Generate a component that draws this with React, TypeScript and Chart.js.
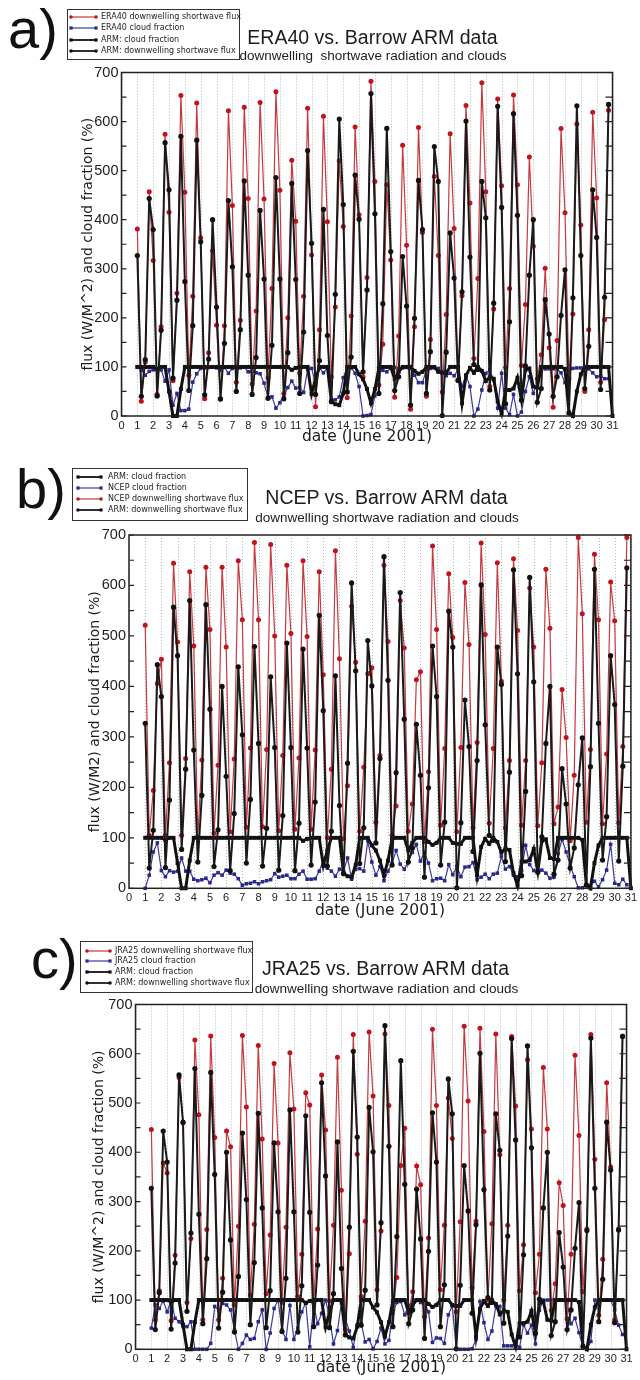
import React, { useEffect, useRef } from "react";
import Chart from "chart.js/auto";
import type { Plugin } from "chart.js";

// 6-hourly samples, first one at 1 June 00 UTC
const FIRST_DAY = 1;
const STEP_DAYS = 0.25;

// ARM Barrow observations (same in all three panels)
const ARM_SW = [
  327, 40, 115, 443, 380, 41, 175, 557, 461, 77, 236, 570, 274, 52, 184, 562,
  355, 43, 116, 400, 222, 35, 148, 439, 304, 50, 176, 479, 287, 44, 119, 419,
  279, 36, 144, 486, 279, 35, 129, 474, 278, 46, 171, 541, 352, 44, 113, 421,
  164, 29, 248, 605, 431, 49, 120, 491, 401, 90, 257, 657, 412, 46, 229, 586,
  335, 52, 80, 325, 224, 22, 199, 480, 380, 46, 131, 549, 478, 1, 130, 373,
  281, 73, 253, 601, 324, 105, 95, 478, 404, 53, 230, 631, 425, 25, 192, 616,
  409, 32, 102, 287, 400, 28, 56, 237, 167, 40, 80, 205, 298, 6, 241, 632,
  327, 56, 142, 461, 364, 54, 242, 635,
];
const ARM_CLOUD = [
  100, 100, 100, 100, 100, 96, 100, 100, 50, 0, 0, 55, 100, 100, 100, 100,
  100, 100, 100, 100, 100, 100, 100, 100, 100, 100, 100, 100, 100, 100, 100, 100,
  100, 100, 100, 100, 100, 100, 100, 94, 98, 100, 100, 100, 45, 75, 100, 100,
  100, 30, 24, 22, 46, 100, 100, 100, 85, 75, 55, 26, 55, 98, 100, 100,
  100, 75, 90, 100, 100, 100, 92, 86, 90, 100, 100, 100, 90, 88, 88, 100,
  100, 100, 26, 82, 98, 88, 100, 92, 71, 79, 76, 30, 5, 53, 53, 56,
  78, 33, 94, 97, 60, 58, 100, 100, 100, 100, 100, 100, 96, 7, 0, 50,
  85, 100, 100, 100, 100, 100, 100, 100, 0,
];

// ERA40 reanalysis
const ERA40_SW = [
  381, 30, 110, 457, 317, 44, 182, 574, 415, 72, 250, 653, 456, 83, 244, 638,
  363, 35, 129, 337, 185, 34, 184, 622, 429, 69, 195, 629, 443, 65, 214, 639,
  442, 78, 260, 661, 460, 46, 200, 521, 397, 87, 244, 627, 328, 19, 176, 611,
  396, 80, 222, 520, 386, 37, 204, 589, 410, 80, 282, 682, 478, 63, 146, 471,
  318, 38, 163, 552, 348, 14, 182, 588, 374, 40, 156, 488, 327, 49, 207, 575,
  382, 72, 245, 633, 434, 117, 280, 679, 457, 60, 218, 646, 469, 99, 260, 654,
  471, 103, 227, 528, 346, 76, 125, 301, 139, 18, 154, 586, 414, 76, 208, 595,
  389, 50, 176, 619, 444, 69, 196, 623,
];
const ERA40_CLOUD = [
  100, 94, 83, 91, 94, 95, 94, 71, 94, 22, 46, 11, 11, 14, 69, 86,
  97, 98, 99, 100, 98, 93, 99, 87, 97, 99, 98, 100, 90, 91, 88, 86,
  67, 38, 39, 16, 27, 41, 58, 71, 57, 58, 48, 95, 97, 67, 98, 88,
  98, 34, 33, 39, 78, 98, 98, 87, 60, 0, 1, 3, 41, 98, 93, 90,
  98, 99, 97, 98, 99, 97, 83, 68, 68, 94, 97, 98, 97, 90, 82, 87,
  82, 94, 60, 84, 60, 0, 14, 53, 87, 94, 73, 16, 87, 16, 3, 44,
  0, 8, 50, 80, 46, 69, 98, 96, 96, 96, 96, 88, 68, 94, 97, 98,
  98, 98, 96, 88, 80, 82, 76, 76,
];

// NCEP reanalysis
const NCEP_SW = [
  521, 105, 194, 406, 454, 105, 249, 644, 488, 105, 257, 627, 480, 102, 254, 636,
  513, 109, 244, 636, 478, 112, 256, 649, 532, 121, 278, 685, 532, 122, 275, 681,
  500, 114, 263, 640, 505, 117, 258, 649, 499, 117, 274, 627, 423, 100, 236, 669,
  455, 98, 203, 559, 448, 113, 240, 425, 437, 131, 263, 640, 489, 105, 163, 570,
  476, 113, 167, 413, 429, 92, 231, 678, 513, 125, 277, 623, 497, 112, 279, 606,
  483, 120, 289, 684, 503, 129, 277, 645, 410, 120, 253, 653, 511, 125, 253, 595,
  478, 124, 249, 632, 515, 128, 161, 394, 299, 94, 224, 695, 544, 131, 275, 662,
  532, 128, 266, 607, 530, 130, 281, 695,
];
const NCEP_CLOUD = [
  0, 26, 72, 90, 35, 23, 35, 32, 34, 60, 34, 34, 18, 15, 17, 20,
  11, 26, 31, 26, 36, 30, 28, 19, 6, 9, 10, 13, 9, 13, 15, 17,
  29, 22, 24, 26, 19, 19, 28, 34, 18, 18, 19, 34, 55, 40, 34, 24,
  38, 34, 60, 18, 38, 39, 34, 94, 52, 26, 43, 15, 34, 50, 75, 48,
  38, 52, 71, 87, 54, 71, 50, 15, 19, 20, 15, 47, 27, 43, 23, 42,
  43, 51, 17, 22, 28, 19, 28, 30, 63, 38, 43, 26, 23, 35, 85, 47,
  35, 34, 36, 30, 20, 22, 69, 97, 72, 46, 23, 1, 1, 7, 5, 14,
  3, 17, 36, 87, 10, 7, 18, 7,
];

// JRA25 reanalysis
const JRA25_SW = [
  446, 60, 119, 378, 358, 58, 191, 552, 460, 95, 225, 628, 476, 60, 243, 636,
  430, 60, 144, 443, 411, 90, 250, 637, 492, 110, 254, 617, 427, 113, 232, 580,
  419, 95, 248, 602, 488, 107, 193, 521, 496, 95, 244, 557, 445, 98, 252, 593,
  323, 40, 194, 639, 396, 107, 260, 644, 514, 121, 240, 640, 495, 80, 146, 373,
  449, 73, 117, 372, 334, 66, 226, 650, 495, 121, 252, 510, 428, 76, 259, 656,
  504, 125, 260, 652, 442, 100, 255, 640, 395, 100, 252, 635, 494, 119, 212, 588,
  447, 115, 193, 572, 447, 79, 133, 338, 292, 62, 193, 597, 434, 117, 244, 639,
  386, 69, 183, 541, 370, 60, 244, 636,
];
const JRA25_CLOUD = [
  43, 90, 83, 98, 76, 100, 63, 56, 46, 46, 56, 0, 0, 0, 0, 12,
  87, 80, 93, 90, 80, 39, 0, 12, 29, 20, 22, 56, 80, 0, 33, 83,
  100, 39, 20, 89, 20, 43, 76, 95, 5, 89, 52, 73, 100, 66, 11, 38,
  94, 62, 37, 4, 50, 53, 15, 20, 1, 16, 43, 11, 18, 73, 95, 97,
  70, 88, 100, 100, 95, 94, 76, 14, 23, 22, 12, 70, 88, 0, 0, 0,
  0, 1, 20, 97, 54, 20, 37, 88, 87, 7, 7, 7, 12, 4, 50, 33,
  49, 11, 79, 100, 100, 100, 100, 100, 100, 95, 52, 63, 34, 5, 0, 16,
  100, 100, 100, 100, 100, 80, 49, 30,
];

const RED = "#c0131c";
const RED_LINE = "#c53a40";
const BLUE = "#29288c";
const BLUE_LINE = "#3a399c";
const BLACK = "#111111";
const INK = "#1c1c1c";
const GRID_DOT = "#b4b4b4";

const Y_TITLE_SIZE = 14;
const X_TITLE_SIZE = 15.5;

type Key = "msw" | "mcl" | "acl" | "asw";

const STYLE: Record<Key, { color: string; line: string; width: number; marker: "circle" | "rect"; radius: number }> = {
  msw: { color: RED, line: RED_LINE, width: 1.2, marker: "circle", radius: 2.5 },
  mcl: { color: BLUE, line: BLUE_LINE, width: 1.2, marker: "rect", radius: 2.5 },
  acl: { color: BLACK, line: BLACK, width: 3, marker: "rect", radius: 2.8 },
  asw: { color: BLACK, line: "#1a1a1a", width: 2, marker: "circle", radius: 2.6 },
};

type PanelSpec = {
  tag: string;
  model: string;
  title: string;
  subtitle: string;
  yTitle: string;
  modelSw: number[];
  modelCloud: number[];
  legendOrder: Key[];
  top: number;
  height: number;
  plot: { l: number; r: number; t: number; b: number };
  yTitleX: number;
  xTitleY: number;
  tagTop: number;
  tagLeft: number;
  legend: { left: number; top: number; width: number; height: number; first: number; pitch: number; lineFrom: number; lineTo: number; textX: number };
  titleAt: [number, number];
  subAt: [number, number];
};

const PANELS: PanelSpec[] = [
  {
    tag: "a)", model: "ERA40", title: "ERA40 vs. Barrow ARM data",
    subtitle: "downwelling  shortwave radiation and clouds",
    yTitle: "flux (W/M^2) and cloud fraction (%)",
    modelSw: ERA40_SW, modelCloud: ERA40_CLOUD,
    legendOrder: ["msw", "mcl", "acl", "asw"],
    top: 0, height: 460,
    plot: { l: 121.5, r: 612.5, t: 72.5, b: 416 },
    yTitleX: 88.5, xTitleY: 437,
    tagLeft: 8, tagTop: 0.6,
    legend: { left: 67, top: 9, width: 173, height: 51, first: 8, pitch: 11.3, lineFrom: 3, lineTo: 28, textX: 33 },
    titleAt: [372.5, 38], subAt: [373, 56],
  },
  {
    tag: "b)", model: "NCEP", title: "NCEP vs. Barrow ARM data",
    subtitle: "downwelling shortwave radiation and clouds",
    yTitle: "flux (W/M2) and cloud fraction (%)",
    modelSw: NCEP_SW, modelCloud: NCEP_CLOUD,
    legendOrder: ["acl", "mcl", "msw", "asw"],
    top: 460, height: 470,
    plot: { l: 129, r: 633.5, t: 535, b: 888.3 },
    yTitleX: 95, xTitleY: 911,
    tagLeft: 16, tagTop: 460.6,
    legend: { left: 72, top: 468, width: 176, height: 53, first: 9, pitch: 11, lineFrom: 5, lineTo: 28, textX: 35 },
    titleAt: [386.5, 498], subAt: [387, 518],
  },
  {
    tag: "c)", model: "JRA25", title: "JRA25 vs. Barrow ARM data",
    subtitle: "downwelling shortwave radiation and clouds",
    yTitle: "flux (W/M^2) and cloud fraction (%)",
    modelSw: JRA25_SW, modelCloud: JRA25_CLOUD,
    legendOrder: ["msw", "mcl", "acl", "asw"],
    top: 930, height: 450,
    plot: { l: 135.5, r: 626.5, t: 1004.5, b: 1349.3 },
    yTitleX: 99, xTitleY: 1368,
    tagLeft: 31, tagTop: 930.6,
    legend: { left: 80, top: 941, width: 173, height: 52, first: 9.5, pitch: 10.9, lineFrom: 6, lineTo: 29, textX: 34 },
    titleAt: [385.5, 969], subAt: [386.5, 989],
  },
];

const toPoints = (vals: number[]) => vals.map((y, i) => ({ x: FIRST_DAY + i * STEP_DAYS, y }));

function labelFor(key: Key, model: string) {
  if (key === "msw") return `${model} downwelling shortwave flux`;
  if (key === "mcl") return `${model} cloud fraction`;
  if (key === "acl") return "ARM: cloud fraction";
  return "ARM: downwelling shortwave flux";
}

// dotted day grid under the data, frame and inward ticks on top
const framePlugin: Plugin<"line"> = {
  id: "frame",
  beforeDatasetsDraw(c) {
    const { ctx, chartArea } = c;
    const xs: any = c.scales.x;
    ctx.save();
    ctx.strokeStyle = GRID_DOT;
    ctx.lineWidth = 1;
    ctx.setLineDash([1, 2]);
    xs.ticks.forEach((t: any) => {
      const px = Math.round(xs.getPixelForValue(t.value)) + 0.5;
      ctx.beginPath();
      ctx.moveTo(px, chartArea.top);
      ctx.lineTo(px, chartArea.bottom);
      ctx.stroke();
    });
    ctx.restore();
  },
  afterDatasetsDraw(c) {
    const { ctx, chartArea } = c;
    const { left, right, top, bottom } = chartArea;
    const ys: any = c.scales.y;
    const values: number[] = ys.ticks.map((t: any) => t.value);
    const marks: number[] = [];
    values.forEach((v, i) => {
      marks.push(v);
      if (i < values.length - 1) marks.push((v + values[i + 1]) / 2);
    });
    ctx.save();
    ctx.strokeStyle = "#222";
    ctx.lineWidth = 1.5;
    ctx.strokeRect(left, top, right - left, bottom - top);
    ctx.lineWidth = 1.2;
    marks.forEach((v) => {
      const py = ys.getPixelForValue(v);
      ctx.beginPath();
      ctx.moveTo(left, py);
      ctx.lineTo(left + 5, py);
      ctx.moveTo(right, py);
      ctx.lineTo(right - 7, py);
      ctx.stroke();
    });
    ctx.restore();
  },
};

function PanelChart({ spec }: { spec: PanelSpec }) {
  const canvasRef = useRef<HTMLCanvasElement | null>(null);

  useEffect(() => {
    const canvas = canvasRef.current;
    if (!canvas) return;
    const { plot, top, height } = spec;
    const padLeft = spec.yTitleX - (Y_TITLE_SIZE * 1.2) / 2;
    const yWidth = plot.l - padLeft;
    const xHeight = spec.xTitleY - plot.b + (X_TITLE_SIZE * 1.2) / 2;
    const padBottom = top + height - (plot.b + xHeight);

    const series: Record<Key, number[]> = {
      asw: ARM_SW,
      acl: ARM_CLOUD,
      msw: spec.modelSw,
      mcl: spec.modelCloud,
    };
    const drawOrder: Key[] = ["asw", "acl", "msw", "mcl"]; // first one on top

    const chart = new Chart(canvas, {
      type: "line",
      data: {
        datasets: drawOrder.map((k) => {
          const s = STYLE[k];
          return {
            label: labelFor(k, spec.model),
            data: toPoints(series[k]),
            borderColor: s.line,
            backgroundColor: s.color,
            borderWidth: s.width,
            pointStyle: s.marker,
            pointRadius: s.radius,
            pointBorderWidth: 0,
            pointBackgroundColor: s.color,
            tension: 0,
            clip: false,
          } as any;
        }),
      },
      options: {
        animation: false,
        responsive: false,
        maintainAspectRatio: false,
        events: [],
        layout: {
          padding: {
            left: padLeft,
            right: 640 - plot.r,
            top: plot.t - top,
            bottom: padBottom,
          },
        },
        plugins: {
          legend: { display: false },
          tooltip: { enabled: false },
        },
        scales: {
          x: {
            type: "linear",
            min: 0,
            max: 31,
            grid: { display: false, drawTicks: false, tickLength: 0 },
            border: { display: false },
            ticks: {
              stepSize: 1,
              autoSkip: false,
              maxRotation: 0,
              minRotation: 0,
              padding: 3,
              color: INK,
              font: { family: "Liberation Sans", size: 11 },
            },
            title: {
              display: true,
              text: "date (June 2001)",
              color: INK,
              padding: 0,
              font: { family: "DejaVu Sans", size: X_TITLE_SIZE },
            },
            afterFit: (s: any) => {
              s.height = xHeight;
            },
          },
          y: {
            min: 0,
            max: 700,
            grid: { display: false, drawTicks: false, tickLength: 0 },
            border: { display: false },
            ticks: {
              stepSize: 100,
              padding: 3,
              color: INK,
              font: { family: "Liberation Sans", size: 14.5 },
            },
            title: {
              display: true,
              text: spec.yTitle,
              color: INK,
              padding: 0,
              font: { family: "DejaVu Sans", size: Y_TITLE_SIZE },
            },
            afterFit: (s: any) => {
              s.width = yWidth;
            },
          },
        },
      },
      plugins: [framePlugin],
    });

    return () => {
      chart.destroy();
    };
  }, [spec]);

  return (
    <canvas
      ref={canvasRef}
      width={640}
      height={spec.height}
      style={{ position: "absolute", left: 0, top: spec.top, width: 640, height: spec.height }}
    />
  );
}

function Legend({ spec }: { spec: PanelSpec }) {
  const lg = spec.legend;
  return (
    <div
      style={{
        position: "absolute",
        left: lg.left,
        top: lg.top,
        width: lg.width,
        height: lg.height,
        boxSizing: "border-box",
        border: "1px solid #333",
        background: "#fff",
      }}
    >
      {spec.legendOrder.map((k, i) => {
        const s = STYLE[k];
        const cy = lg.first + i * lg.pitch - 1;
        const lw = k === "acl" || k === "asw" ? 1.8 : 1.2;
        const a = lg.lineFrom;
        const b = lg.lineTo;
        return (
          <React.Fragment key={k}>
            <svg
              width={b + 4}
              height={8}
              style={{ position: "absolute", left: 0, top: cy - 4 }}
            >
              <line x1={a} y1={4} x2={b} y2={4} stroke={s.line} strokeWidth={lw} />
              {s.marker === "circle" ? (
                <>
                  <circle cx={a} cy={4} r={1.8} fill={s.color} />
                  <circle cx={b} cy={4} r={1.8} fill={s.color} />
                </>
              ) : (
                <>
                  <rect x={a - 1.6} y={2.4} width={3.2} height={3.2} fill={s.color} />
                  <rect x={b - 1.6} y={2.4} width={3.2} height={3.2} fill={s.color} />
                </>
              )}
            </svg>
            <div
              style={{
                position: "absolute",
                left: lg.textX,
                top: cy,
                transform: "translateY(-50%)",
                fontFamily: "DejaVu Sans",
                fontSize: 8,
                lineHeight: 1,
                whiteSpace: "nowrap",
                color: INK,
              }}
            >
              {labelFor(k, spec.model)}
            </div>
          </React.Fragment>
        );
      })}
    </div>
  );
}

function CenteredText({ at, size, text }: { at: [number, number]; size: number; text: string }) {
  return (
    <div
      style={{
        position: "absolute",
        left: at[0],
        top: at[1],
        transform: "translate(-50%, -50%)",
        fontFamily: "Liberation Sans",
        fontSize: size,
        lineHeight: 1,
        whiteSpace: "pre",
        color: INK,
      }}
    >
      {text}
    </div>
  );
}

function Panel({ spec }: { spec: PanelSpec }) {
  return (
    <>
      <PanelChart spec={spec} />
      <div
        style={{
          position: "absolute",
          left: spec.tagLeft,
          top: spec.tagTop,
          fontFamily: "Liberation Sans",
          fontSize: 56,
          lineHeight: 1,
          color: "#111",
        }}
      >
        {spec.tag}
      </div>
      <Legend spec={spec} />
      <CenteredText at={spec.titleAt} size={19.5} text={spec.title} />
      <CenteredText at={spec.subAt} size={13.5} text={spec.subtitle} />
    </>
  );
}

export default function App() {
  return (
    <div
      style={{
        position: "absolute",
        left: 0,
        top: 0,
        width: 640,
        height: 1380,
        background: "#fff",
        overflow: "hidden",
      }}
    >
      {PANELS.map((p) => (
        <Panel key={p.tag} spec={p} />
      ))}
    </div>
  );
}
